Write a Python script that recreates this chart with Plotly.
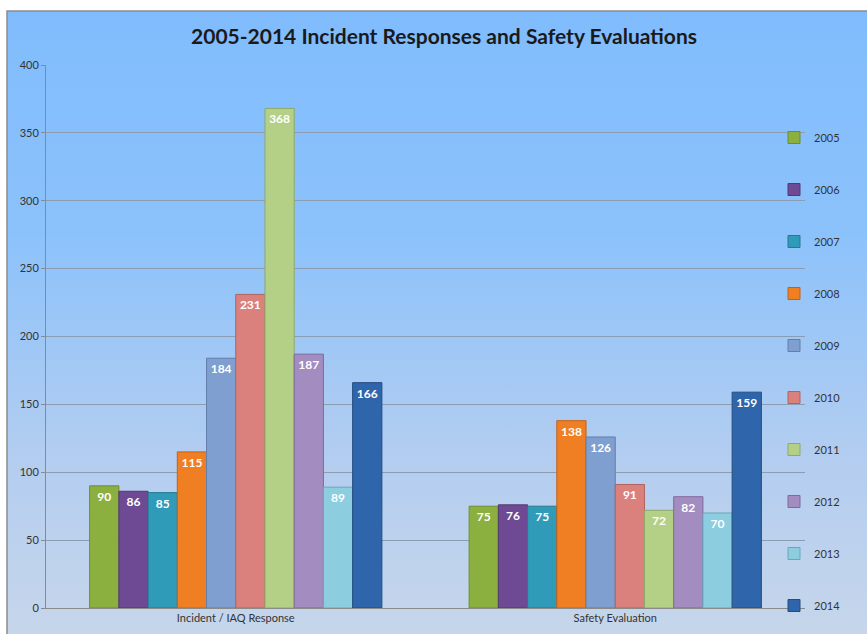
import base64
import plotly.graph_objects as go

categories = ["Incident / IAQ Response", "Safety Evaluation"]
years = ["2005", "2006", "2007", "2008", "2009", "2010", "2011", "2012", "2013", "2014"]
incident_values = [90, 86, 85, 115, 184, 231, 368, 187, 89, 166]
safety_values = [75, 76, 75, 138, 126, 91, 72, 82, 70, 159]
y_ticks = [0, 50, 100, 150, 200, 250, 300, 350, 400]

colors = ["#8cb040", "#6d4a93", "#2f9bb8", "#f07e22", "#7f9fd0",
          "#da817e", "#b4cf86", "#a28cc0", "#8ccde0", "#2f65aa"]
line_colors = ["#6f8c2f", "#55386f", "#237a92", "#c2621a", "#637fab",
               "#b06360", "#90a86a", "#80699c", "#6aa6b8", "#234c80"]

fig = go.Figure()
for i, yr in enumerate(years):
    fig.add_trace(go.Bar(
        x=categories,
        y=[incident_values[i], safety_values[i]],
        name=yr,
        legendgroup=yr,
        marker=dict(color=colors[i], line=dict(color=line_colors[i], width=1)),
        text=[incident_values[i], safety_values[i]],
        textposition="inside",
        insidetextanchor="end",
        textangle=0,
        textfont=dict(family="Lato", size=12, color="white", weight="bold"),
        constraintext="none",
    ))

svg = ('<svg xmlns="http://www.w3.org/2000/svg" width="100" height="100" preserveAspectRatio="none">'
       '<defs><linearGradient id="g" x1="0" y1="0" x2="0" y2="1">'
       '<stop offset="0" stop-color="#80bcfd"/>'
       '<stop offset="0.35" stop-color="#8cc2fb"/>'
       '<stop offset="0.7" stop-color="#b3cdf0"/>'
       '<stop offset="1" stop-color="#c8d7ea"/>'
       '</linearGradient></defs>'
       '<rect x="0" y="0" width="100" height="100" fill="url(#g)"/></svg>')
src = "data:image/svg+xml;base64," + base64.b64encode(svg.encode()).decode()

L, R, T, B = 46, 62, 65, 26
W, H = 867, 634
pw, ph = W - L - R, H - T - B

def px_x(x):
    return (x - L) / pw

def px_y(y):
    return (H - B - y) / ph

fig.add_layout_image(dict(
    source=src, xref="paper", yref="paper",
    x=px_x(7), y=px_y(11), sizex=px_x(880) - px_x(7), sizey=px_y(11) - px_y(650),
    xanchor="left", yanchor="top", sizing="stretch", layer="below",
))
fig.add_shape(type="rect", xref="paper", yref="paper",
              x0=px_x(7), x1=px_x(880), y0=px_y(650), y1=px_y(11),
              line=dict(color="#8c8c8c", width=1.5), fillcolor="rgba(0,0,0,0)", layer="below")

fig.update_layout(
    width=W, height=H,
    margin=dict(l=L, r=R, t=T, b=B, autoexpand=False),
    paper_bgcolor="white",
    plot_bgcolor="rgba(0,0,0,0)",
    barmode="group",
    bargap=0.23,
    bargroupgap=0,
    title=dict(text="2005-2014 Incident Responses and Safety Evaluations",
               x=444 / W, xanchor="center",
               y=(H - 37) / H, yanchor="middle",
               font=dict(family="Lato", size=21, color="#1a1a1a", weight="bold")),
    font=dict(family="Lato", size=11, color="#404040"),
    showlegend=True,
    legend=dict(x=px_x(774), xanchor="left", y=px_y(123), yanchor="top",
                bgcolor="rgba(0,0,0,0)", tracegroupgap=33,
                font=dict(family="Lato", size=11, color="#333333"),
                itemwidth=30),
    xaxis=dict(showline=True, linecolor="#8a8a8a", linewidth=1,
               tickfont=dict(size=11, color="#333333"), ticks=""),
    yaxis=dict(range=[0, 400], tickvals=y_ticks, showgrid=True,
               gridcolor="#8a9db2", gridwidth=1, showline=True,
               linecolor="#8a8a8a", ticks="outside", ticklen=4,
               tickcolor="#8a8a8a", zeroline=False,
               tickfont=dict(size=11, color="#333333")),
)

fig.write_html("out.html",
               config={"displayModeBar": False},
               post_script="document.body.style.margin='0';document.body.style.overflow='hidden';")
